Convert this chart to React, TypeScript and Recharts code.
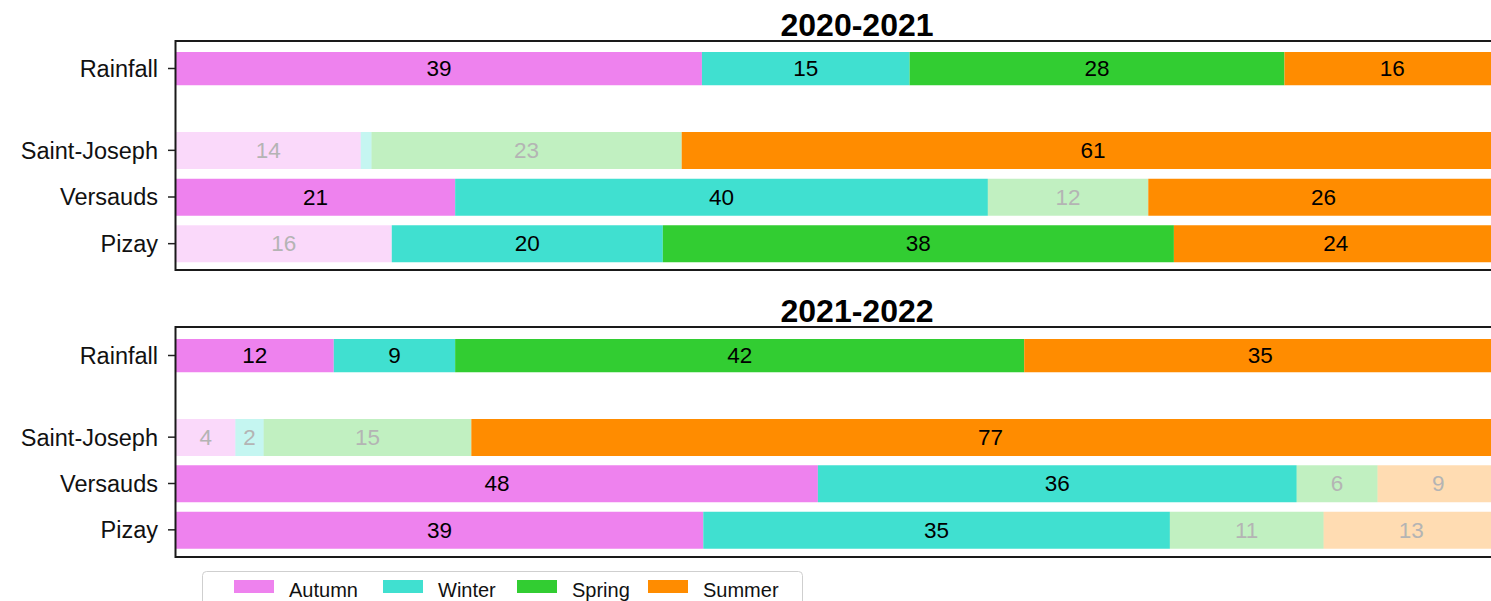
import React from "react";
import { BarChart, Bar, XAxis, YAxis, Cell, LabelList } from "recharts";

const seasons = ["Autumn", "Winter", "Spring", "Summer"];
const seasonColors = ["#EE82EE", "#40E0D0", "#32CD32", "#FF8C00"];
const stations = ["Saint-Joseph", "Versauds", "Pizay"];
const years = ["2020-2021", "2021-2022"];

// share of each season (%)
const rainfall2021 = [39.0, 15.4, 27.8, 16.0];
const saintJoseph2021 = [13.7, 0.8, 23.0, 61.0];
const versauds2021 = [20.7, 39.5, 11.9, 26.0];
const pizay2021 = [16.0, 20.1, 37.9, 24.0];

const rainfall2022 = [11.7, 9.0, 42.2, 35.0];
const saintJoseph2022 = [4.4, 2.1, 15.4, 77.0];
const versauds2022 = [47.6, 35.5, 6.0, 9.0];
const pizay2022 = [39.1, 34.6, 11.4, 13.0];

// 1 = full colour, 0 = drawn faded
const rainfallSig = [1, 1, 1, 1];
const saintJosephSig2021 = [0, 0, 0, 1];
const versaudsSig2021 = [1, 1, 0, 1];
const pizaySig2021 = [0, 1, 1, 1];
const saintJosephSig2022 = [0, 0, 0, 1];
const versaudsSig2022 = [1, 1, 0, 0];
const pizaySig2022 = [1, 1, 0, 0];

type Row = { name: string; values: number[]; sig: number[]; [k: string]: any };

const makeRow = (name: string, values: number[], sig: number[]): Row => {
  const r: Row = { name, values, sig };
  seasons.forEach((s, i) => (r[s] = values[i]));
  return r;
};

const panels = [
  {
    title: years[0],
    rain: [makeRow("Rainfall", rainfall2021, rainfallSig)],
    stations: [
      makeRow(stations[0], saintJoseph2021, saintJosephSig2021),
      makeRow(stations[1], versauds2021, versaudsSig2021),
      makeRow(stations[2], pizay2021, pizaySig2021),
    ],
    titleY: 36,
    frameTop: 41,
    frameBottom: 270,
    rainTop: 50,
    stTop: 127,
    stH: 140,
  },
  {
    title: years[1],
    rain: [makeRow("Rainfall", rainfall2022, rainfallSig)],
    stations: [
      makeRow(stations[0], saintJoseph2022, saintJosephSig2022),
      makeRow(stations[1], versauds2022, versaudsSig2022),
      makeRow(stations[2], pizay2022, pizaySig2022),
    ],
    titleY: 322,
    frameTop: 327,
    frameBottom: 557,
    rainTop: 337,
    stTop: 414,
    stH: 139,
  },
];

const FONT = "'Liberation Sans', Arial, sans-serif";
const AXIS_W = 176;
const PLOT_W = 1362;

const renderLabel = (p: any, rows: Row[], si: number) => {
  const idx = Number(p.index);
  const row = rows[idx];
  if (!row) return null;
  const v = row.values[si];
  if (v < 1.5) return null;
  const x = Number(p.x) + Number(p.width) / 2;
  const y = Number(p.y) + Number(p.height) / 2;
  return (
    <text
      key={`l-${si}-${idx}`}
      x={x}
      y={y}
      textAnchor="middle"
      dominantBaseline="central"
      fontSize={22.5}
      fontFamily={FONT}
      fill={row.sig[si] ? "#000" : "#b4b4b4"}
    >
      {Math.round(v)}
    </text>
  );
};

const StackChart = ({ rows, height }: { rows: Row[]; height: number }) => (
  <BarChart
    layout="vertical"
    width={AXIS_W + PLOT_W}
    height={height}
    data={rows}
    margin={{ top: 0, right: 0, bottom: 0, left: 0 }}
    barCategoryGap={0}
  >
    <XAxis type="number" domain={[0, 101]} hide />
    <YAxis
      type="category"
      dataKey="name"
      width={AXIS_W}
      tickSize={8}
      tickMargin={10}
      axisLine={false}
      tickLine={{ stroke: "#222", strokeWidth: 1.5 }}
      tick={{ fontSize: 23.5, fill: "#111", fontFamily: FONT }}
      interval={0}
    />
    {seasons.map((s, si) => (
      <Bar key={s} dataKey={s} stackId="a" barSize={37} isAnimationActive={false}>
        {rows.map((r, ri) => (
          <Cell key={ri} fill={seasonColors[si]} fillOpacity={r.sig[si] ? 1 : 0.3} />
        ))}
        <LabelList dataKey={s} content={(p: any) => renderLabel(p, rows, si)} />
      </Bar>
    ))}
  </BarChart>
);

const legendX = [234, 383, 517, 648];

export default function App() {
  return (
    <div
      style={{
        position: "fixed",
        left: 0,
        top: 0,
        width: 1491,
        height: 601,
        overflow: "hidden",
        background: "#fff",
        fontFamily: FONT,
      }}
    >
      {panels.map((pn) => (
        <React.Fragment key={pn.title}>
          <div style={{ position: "absolute", left: 0, top: pn.rainTop }}>
            <StackChart rows={pn.rain} height={37} />
          </div>
          <div style={{ position: "absolute", left: 0, top: pn.stTop }}>
            <StackChart rows={pn.stations} height={pn.stH} />
          </div>
        </React.Fragment>
      ))}
      <svg
        width={1491}
        height={601}
        style={{ position: "absolute", left: 0, top: 0, pointerEvents: "none" }}
      >
        {panels.map((pn) => (
          <g key={pn.title}>
            <text
              x={AXIS_W + PLOT_W / 2}
              y={pn.titleY}
              textAnchor="middle"
              fontSize={32}
              fontWeight="bold"
              fontFamily={FONT}
              fill="#000"
            >
              {pn.title}
            </text>
            <path
              d={`M1500,${pn.frameTop} H175.5 V${pn.frameBottom} H1500`}
              fill="none"
              stroke="#1a1a1a"
              strokeWidth={2}
            />
          </g>
        ))}
        <rect x={202.5} y={571.5} width={600} height={50} rx={4} fill="#fff" stroke="#cfcfcf" />
        {seasons.map((s, i) => (
          <g key={s}>
            <rect x={legendX[i]} y={580} width={40} height={13} fill={seasonColors[i]} />
            <text x={legendX[i] + 55} y={597} fontSize={20} fontFamily={FONT} fill="#111">
              {s}
            </text>
          </g>
        ))}
      </svg>
    </div>
  );
}
